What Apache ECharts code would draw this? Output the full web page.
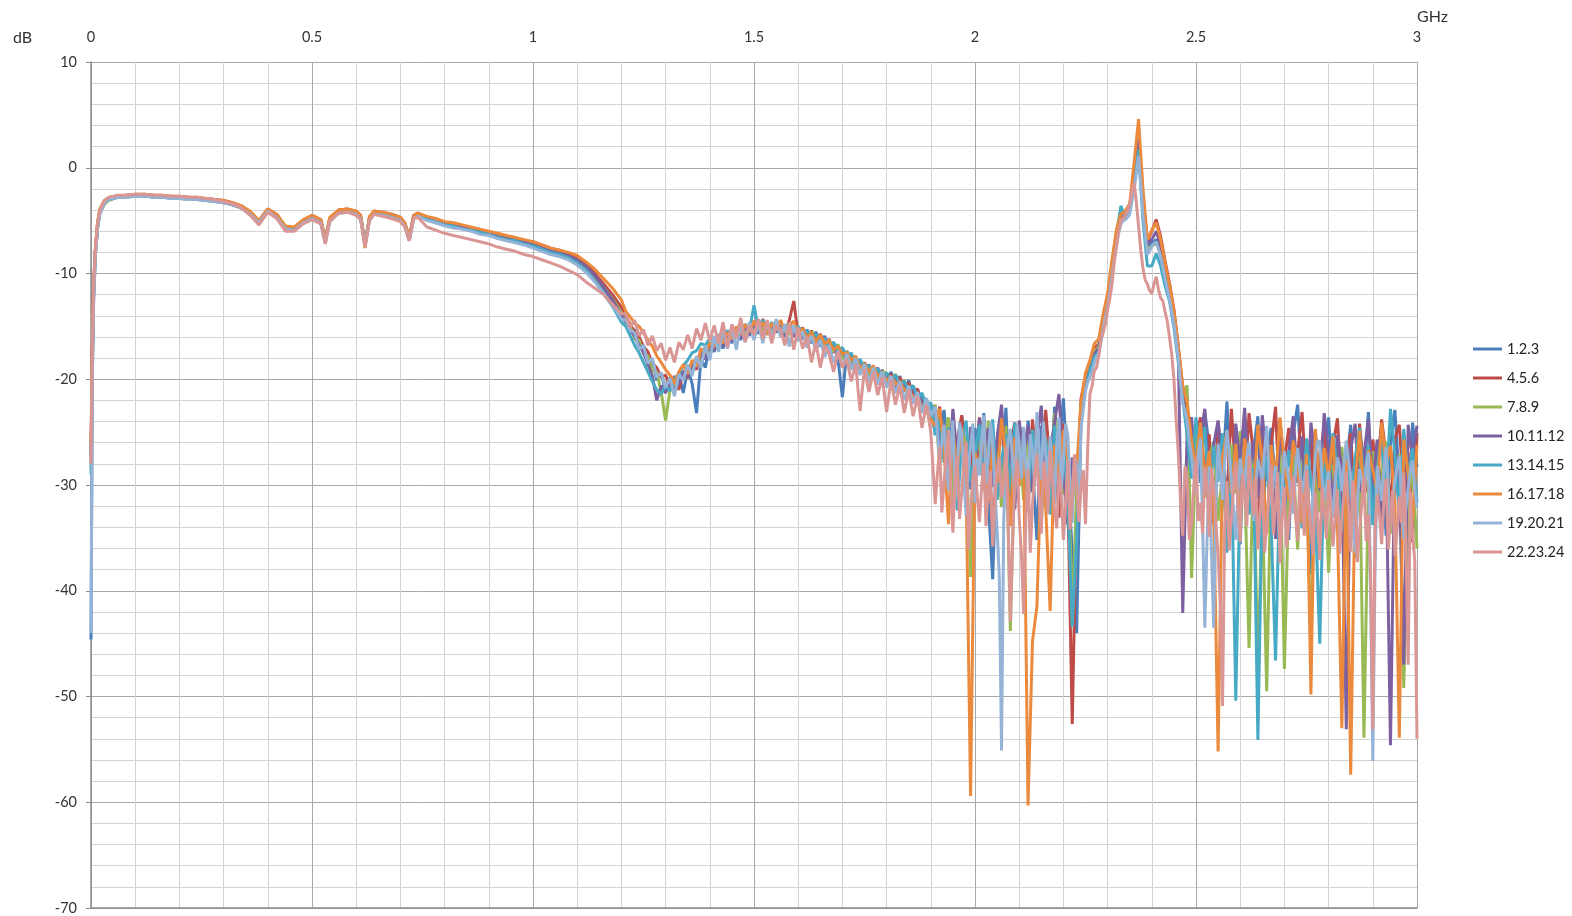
<!DOCTYPE html>
<html>
<head>
<meta charset="utf-8">
<script src="https://cdn.jsdelivr.net/npm/echarts@6/dist/echarts.min.js"></script>
<style>
  html, body { margin: 0; padding: 0; background: #fff; }
  #chart { width: 1572px; height: 916px; }
</style>
</head>
<body>
<div id="chart"></div>
<script>
// frequency grid (GHz), shared by all traces
var freq = [
  0, 0.003, 0.006, 0.01, 0.015, 0.02, 0.03, 0.04,
  0.06, 0.08, 0.1, 0.12, 0.14, 0.16, 0.18, 0.2, 0.22, 0.24,
  0.26, 0.28, 0.3, 0.32, 0.34, 0.36, 0.38, 0.4, 0.42, 0.44,
  0.46, 0.48, 0.5, 0.52, 0.53, 0.54, 0.56, 0.58, 0.6, 0.61,
  0.62, 0.63, 0.64, 0.66, 0.68, 0.7, 0.71, 0.72, 0.73, 0.74,
  0.76, 0.78, 0.8, 0.82, 0.84, 0.86, 0.88, 0.9, 0.92, 0.94,
  0.96, 0.98, 1, 1.02, 1.04, 1.06, 1.08, 1.1, 1.12, 1.14,
  1.16, 1.18, 1.2,
  1.21, 1.22, 1.23, 1.24, 1.25, 1.26, 1.27, 1.28, 1.29, 1.3,
  1.31, 1.32, 1.33, 1.34, 1.35, 1.36, 1.37, 1.38, 1.39, 1.4,
  1.41, 1.42, 1.43, 1.44, 1.45, 1.46, 1.47, 1.48, 1.49, 1.5,
  1.51, 1.52, 1.53, 1.54, 1.55, 1.56, 1.57, 1.58, 1.59, 1.6,
  1.61, 1.62, 1.63, 1.64, 1.65, 1.66, 1.67, 1.68, 1.69, 1.7,
  1.71, 1.72, 1.73, 1.74, 1.75, 1.76, 1.77, 1.78, 1.79, 1.8,
  1.81, 1.82, 1.83, 1.84, 1.85, 1.86, 1.87, 1.88, 1.89, 1.9,
  1.91, 1.92, 1.93, 1.94, 1.95, 1.96, 1.97, 1.98, 1.99, 2.0,
  2.01, 2.02, 2.03, 2.04, 2.05, 2.06, 2.07, 2.08, 2.09, 2.1,
  2.11, 2.12, 2.13, 2.14, 2.15, 2.16, 2.17, 2.18, 2.19, 2.2,
  2.21, 2.22, 2.23, 2.24, 2.25, 2.26, 2.27, 2.28, 2.29, 2.3,
  2.31, 2.32, 2.33, 2.34, 2.35, 2.36, 2.37, 2.38, 2.39, 2.4,
  2.41, 2.42, 2.43, 2.44, 2.45, 2.46, 2.47, 2.48, 2.49, 2.5,
  2.51, 2.52, 2.53, 2.54, 2.55, 2.56, 2.57, 2.58, 2.59, 2.6,
  2.61, 2.62, 2.63, 2.64, 2.65, 2.66, 2.67, 2.68, 2.69, 2.7,
  2.71, 2.72, 2.73, 2.74, 2.75, 2.76, 2.77, 2.78, 2.79, 2.8,
  2.81, 2.82, 2.83, 2.84, 2.85, 2.86, 2.87, 2.88, 2.89, 2.9,
  2.91, 2.92, 2.93, 2.94, 2.95, 2.96, 2.97, 2.98, 2.99, 3.0
];

// extra in-between samples for the two traces that sit on top of the noisy band
var freqHalf = [
  1.915, 1.925, 1.935, 1.945, 1.955, 1.965, 1.975, 1.985, 1.995, 2.005,
  2.015, 2.025, 2.035, 2.045, 2.055, 2.065, 2.075, 2.085, 2.095, 2.105,
  2.115, 2.125, 2.135, 2.145, 2.155, 2.165, 2.175, 2.185, 2.195, 2.205,
  2.215, 2.225, 2.235, 2.245, 2.255, 2.265, 2.275, 2.285, 2.295, 2.305,
  2.315, 2.325, 2.335, 2.345, 2.355, 2.365, 2.375, 2.385, 2.395, 2.405,
  2.415, 2.425, 2.435, 2.445, 2.455, 2.465, 2.475, 2.485, 2.495, 2.505,
  2.515, 2.525, 2.535, 2.545, 2.555, 2.565, 2.575, 2.585, 2.595, 2.605,
  2.615, 2.625, 2.635, 2.645, 2.655, 2.665, 2.675, 2.685, 2.695, 2.705,
  2.715, 2.725, 2.735, 2.745, 2.755, 2.765, 2.775, 2.785, 2.795, 2.805,
  2.815, 2.825, 2.835, 2.845, 2.855, 2.865, 2.875, 2.885, 2.895, 2.905,
  2.915, 2.925, 2.935, 2.945, 2.955, 2.965, 2.975, 2.985, 2.995
];

var names = ['1.2.3', '4.5.6', '7.8.9', '10.11.12', '13.14.15', '16.17.18', '19.20.21', '22.23.24'];
var colors = ['#4a7ebb', '#be4b48', '#98b954', '#7d60a0', '#46aac5', '#eb8a3c', '#95b3d7', '#d99694'];

// dB values, one array per trace
var s1 = [
  -44.6, -20, -12.5, -8.2, -5.6, -4.3, -3.4, -3.0,
  -2.8, -2.7, -2.6, -2.7, -2.7, -2.8, -2.8, -2.9, -2.9, -3.0,
  -3.0, -3.1, -3.2, -3.4, -3.8, -4.4, -5.2, -4.1, -4.6, -5.8,
  -5.9, -5.2, -4.7, -5.1, -7.0, -5.0, -4.2, -4.1, -4.3, -4.7,
  -7.3, -4.9, -4.3, -4.4, -4.6, -4.9, -5.4, -6.8, -4.7, -4.5,
  -4.9, -5.2, -5.4, -5.6, -5.7, -5.9, -6.2, -6.3, -6.5, -6.8,
  -6.9, -7.2, -7.3, -7.7, -7.9, -8.2, -8.4, -8.9, -9.5, -10.5,
  -11.6, -12.8, -14.1,
  -14.2, -15.6, -15.3, -17.1, -16.8, -18.6, -18.2, -20.1, -19.4, -21.2,
  -19.8, -20.9, -19.5, -21.3, -19.0, -20.4, -23.2, -18.1, -18.9, -16.5,
  -17.4, -16.0, -17.1, -15.5, -16.6, -15.1, -16.3, -14.9, -15.9, -14.6,
  -15.7, -14.5, -15.8, -14.7, -15.6, -14.6, -16.0, -14.8, -15.9, -15.1,
  -16.2, -15.3, -16.6, -15.5, -16.9, -15.9, -17.4, -16.5, -18.1, -21.7,
  -17.3, -18.7, -17.9, -19.4, -18.5, -19.9, -18.8, -20.2, -19.1, -20.4,
  -19.3, -20.8, -19.7, -21.2, -20.1, -21.7, -20.9, -22.6, -21.8, -23.5,
  -23.8, -25.6, -22.9, -27.4, -24.1, -29.8, -23.5, -26.9, -30.4, -24.6,
  -27.3, -23.2, -31.5, -38.9, -25.8, -29.4, -22.7, -33.1, -26.2, -24.9,
  -30.6, -23.9, -28.1, -35.2, -24.4, -27.6, -31.9, -22.6, -26.8, -21.8,
  -29.5, -36.1, -44.0, -23.4, -20.6, -19.4, -17.8, -17.3, -14.9, -12.8,
  -9.6, -6.8, -5.0, -4.6, -4.1, -1.2, 2.5, -3.5, -7.5, -7.1,
  -6.8, -7.8, -9.9, -11.8, -14.3, -17.8, -21.4, -23.2, -27.6, -24.4,
  -29.8, -23.1, -26.4, -32.5, -24.7, -28.9, -22.1, -30.7, -25.3, -35.6,
  -24.2, -31.4, -26.8, -23.5, -33.9, -27.2, -24.6, -30.1, -23.8, -28.7,
  -35.2, -25.1, -22.4, -29.6, -26.3, -38.4, -24.9, -31.7, -27.5, -23.6,
  -30.2, -25.8, -33.6, -28.1, -24.3, -36.9, -26.7, -29.4, -23.1, -31.8,
  -27.3, -24.6, -34.8, -26.1, -22.9, -29.7, -25.4, -38.2, -24.1, -28.3
];

var s2 = [
  -27.5, -17, -11, -7.6, -5.2, -4.0, -3.2, -2.9,
  -2.7, -2.6, -2.6, -2.5, -2.6, -2.7, -2.7, -2.8, -2.8, -2.9,
  -2.9, -3.0, -3.1, -3.3, -3.6, -4.2, -5.0, -3.9, -4.4, -5.6,
  -5.7, -5.0, -4.5, -4.9, -6.8, -4.8, -4.0, -3.9, -4.1, -4.5,
  -7.1, -4.7, -4.1, -4.2, -4.4, -4.7, -5.2, -6.6, -4.5, -4.3,
  -4.7, -4.9, -5.2, -5.3, -5.5, -5.7, -5.9, -6.1, -6.3, -6.5,
  -6.6, -6.9, -7.0, -7.3, -7.6, -7.8, -8.1, -8.5, -9.1, -10.0,
  -11.0, -12.0, -13.2,
  -14.0, -14.8, -15.5, -16.0, -16.9, -17.4, -18.5, -18.9, -19.8, -19.6,
  -20.8, -19.7, -21.0, -19.2, -19.9, -18.4, -19.1, -17.3, -17.9, -16.6,
  -17.2, -16.1, -16.8, -15.6, -16.3, -15.2, -16.0, -14.9, -15.7, -14.5,
  -15.4, -14.3, -15.6, -14.8, -15.5, -14.5, -15.7, -14.4, -12.6, -15.8,
  -15.1, -16.3, -15.4, -16.6, -15.7, -17.0, -16.2, -17.5, -16.8, -18.0,
  -17.4, -18.5, -18.0, -19.3, -18.4, -19.7, -18.9, -20.1, -19.2, -20.3,
  -19.5, -20.6, -19.8, -21.0, -20.3, -21.4, -20.9, -22.5, -22.0, -23.4,
  -24.9, -22.6, -26.8, -24.2, -30.1, -25.7, -23.4, -28.5, -26.2, -31.3,
  -23.6, -28.4, -25.1, -34.7, -27.8, -23.3, -30.9, -26.4, -24.1, -29.2,
  -25.7, -32.4, -23.8, -27.9, -30.6, -22.9, -28.3, -25.4, -33.1, -24.2,
  -30.8, -52.6, -31.2, -21.8, -19.7, -18.6, -17.0, -16.7, -14.1, -12.2,
  -9.2, -6.2, -4.6, -4.3, -3.6, -1.0, 2.3, -2.6, -7.0, -6.0,
  -4.9, -6.5, -8.8, -10.9, -13.4, -16.9, -20.8, -22.6, -26.3, -25.8,
  -23.6, -29.4, -25.2, -33.8, -24.1, -27.6, -31.2, -22.8, -28.9, -25.5,
  -30.4, -23.2, -27.1, -35.5, -24.8, -29.1, -26.3, -22.6, -32.4, -27.7,
  -24.6, -30.3, -26.9, -23.1, -29.8, -25.2, -34.1, -27.3, -24.5, -30.6,
  -26.2, -23.7, -31.5, -27.8, -25.1, -33.2, -24.2, -28.6, -30.9, -25.7,
  -29.4, -23.8, -27.2, -32.1, -25.6, -24.3, -30.8, -26.9, -35.4, -25.1
];

var s3 = [
  -28.5, -18, -11.8, -8.0, -5.5, -4.3, -3.5, -3.1,
  -2.8, -2.8, -2.7, -2.6, -2.7, -2.8, -2.8, -2.9, -3.0, -2.9,
  -3.1, -3.1, -3.3, -3.4, -3.7, -4.3, -5.1, -4.0, -4.5, -5.7,
  -5.7, -5.0, -4.6, -5.0, -6.9, -4.9, -4.2, -4.0, -4.3, -4.6,
  -7.2, -4.8, -4.2, -4.4, -4.5, -4.8, -5.3, -6.7, -4.6, -4.4,
  -4.8, -5.0, -5.3, -5.5, -5.7, -5.8, -6.1, -6.3, -6.4, -6.7,
  -6.8, -7.1, -7.3, -7.6, -7.8, -8.1, -8.4, -8.7, -9.4, -10.3,
  -11.3, -12.4, -13.7,
  -14.7, -15.0, -16.2, -16.3, -17.6, -17.8, -19.2, -19.3, -21.2, -23.9,
  -21.0, -20.5, -19.4, -20.1, -18.7, -19.3, -17.9, -18.2, -16.9, -17.6,
  -16.2, -17.0, -15.8, -16.5, -15.4, -16.1, -15.0, -15.9, -14.8, -15.6,
  -14.6, -15.5, -14.7, -15.6, -14.6, -15.7, -14.8, -15.8, -15.0, -16.0,
  -15.2, -16.3, -15.5, -16.5, -15.8, -16.9, -16.3, -17.4, -16.7, -18.1,
  -17.4, -18.4, -17.9, -19.2, -18.5, -19.6, -18.9, -20.0, -19.3, -19.4,
  -20.3, -19.5, -20.8, -20.1, -21.3, -20.6, -22.0, -21.4, -22.9, -23.2,
  -22.4, -28.1, -25.3, -23.6, -31.8, -27.2, -24.8, -26.1, -38.7, -27.9,
  -25.2, -30.6, -23.9, -28.4, -26.7, -32.1, -24.4, -43.8, -27.6, -25.1,
  -31.4, -24.7, -28.2, -26.3, -33.5, -25.8, -29.7, -23.2, -27.4, -30.9,
  -26.1, -43.2, -30.4, -22.3, -19.9, -18.7, -17.4, -16.9, -14.5, -12.3,
  -9.0, -6.0, -3.8, -4.4, -3.9, -1.3, 2.0, -3.2, -7.8, -7.4,
  -7.1, -7.9, -10.2, -12.1, -14.6, -17.9, -21.2, -20.6, -38.8, -26.1,
  -24.3, -31.2, -27.5, -25.9, -33.4, -28.6, -35.7, -26.2, -30.8, -24.9,
  -29.3, -45.4, -27.1, -47.4, -31.6, -49.5, -28.3, -33.2, -26.4, -47.4,
  -30.2, -27.5, -36.1, -25.8, -29.4, -45.1, -27.2, -32.6, -26.7, -38.3,
  -28.1, -33.7, -26.4, -31.2, -29.5, -35.8, -27.3, -53.9, -30.1, -26.8,
  -32.4, -28.7, -25.9, -34.6, -30.2, -27.1, -49.2, -31.5, -28.4, -36.0
];

var s4 = [
  -27, -17.5, -11.5, -7.8, -5.4, -4.1, -3.3, -2.9,
  -2.7, -2.7, -2.6, -2.6, -2.8, -2.7, -2.9, -2.8, -2.9, -3.0,
  -3.1, -3.2, -3.3, -3.5, -3.8, -4.3, -5.2, -4.1, -4.6, -5.7,
  -5.8, -5.1, -4.7, -5.0, -7.0, -4.9, -4.1, -4.0, -4.3, -4.7,
  -7.3, -4.8, -4.3, -4.3, -4.6, -4.9, -5.4, -6.8, -4.6, -4.5,
  -4.8, -5.1, -5.3, -5.5, -5.6, -5.9, -6.1, -6.2, -6.5, -6.7,
  -6.8, -7.0, -7.2, -7.5, -7.8, -8.0, -8.3, -8.7, -9.3, -10.2,
  -11.3, -12.5, -13.9,
  -14.6, -15.4, -15.9, -16.8, -17.5, -18.6, -19.7, -22.0, -20.6, -21.3,
  -20.1, -21.0, -20.4, -19.3, -19.8, -18.6, -18.9, -17.5, -18.1, -16.8,
  -17.1, -16.3, -16.8, -15.7, -16.4, -15.3, -16.1, -15.0, -15.7, -14.8,
  -15.5, -14.7, -15.6, -14.9, -15.5, -14.6, -15.8, -14.9, -16.0, -15.1,
  -16.1, -15.4, -16.5, -15.7, -16.8, -16.0, -17.2, -16.6, -17.8, -17.1,
  -18.3, -17.6, -18.9, -18.2, -19.5, -18.6, -19.9, -18.9, -20.3, -19.4,
  -20.6, -19.6, -21.0, -20.2, -21.5, -20.6, -22.1, -21.5, -23.1, -22.4,
  -23.1, -26.4, -24.2, -29.3, -22.8, -27.6, -25.1, -31.4, -24.5, -28.2,
  -23.7, -27.9, -24.6, -30.2, -25.5, -22.4, -28.8, -26.1, -32.3, -23.9,
  -27.2, -24.3, -30.7, -25.6, -22.5, -29.4, -26.8, -24.1, -21.4, -28.6,
  -33.8, -27.4, -29.6, -22.9, -20.3, -19.1, -17.6, -17.1, -14.6, -12.6,
  -9.4, -6.6, -4.9, -4.5, -3.9, -0.9, 2.7, -3.0, -7.2, -6.8,
  -6.0, -7.4, -9.6, -11.6, -14.0, -17.6, -42.1, -24.8, -23.6, -29.3,
  -25.4, -22.8, -30.6, -26.2, -23.9, -28.7, -25.1, -33.4, -24.2, -27.9,
  -22.7, -29.5, -25.8, -31.3, -23.4, -27.8, -26.2, -35.1, -24.6, -28.4,
  -26.9, -23.5, -29.8, -25.4, -32.7, -24.1, -27.6, -30.5, -23.2, -26.8,
  -31.9, -25.3, -28.4, -53.1, -26.6, -24.2, -30.7, -27.1, -23.8, -29.9,
  -25.7, -33.2, -27.8, -54.6, -26.4, -29.1, -47.0, -24.3, -27.5, -24.4
];

var s5 = [
  -29, -18.5, -12, -8.1, -5.6, -4.2, -3.3, -3.0,
  -2.8, -2.7, -2.7, -2.6, -2.7, -2.8, -2.8, -2.8, -2.9, -3.0,
  -3.0, -3.1, -3.2, -3.5, -3.8, -4.4, -5.3, -4.1, -4.6, -5.8,
  -5.9, -5.2, -4.8, -5.2, -7.1, -5.0, -4.2, -4.1, -4.4, -4.8,
  -7.4, -4.9, -4.3, -4.4, -4.7, -4.9, -5.4, -6.9, -4.7, -4.5,
  -4.9, -5.1, -5.4, -5.5, -5.8, -5.9, -6.1, -6.3, -6.6, -6.8,
  -6.9, -7.2, -7.4, -7.7, -8.0, -8.2, -8.5, -9.0, -9.7, -10.7,
  -11.9, -13.1, -14.6,
  -15.0, -15.9, -16.8, -17.5, -18.4, -19.3, -20.2, -21.0, -21.4, -20.6,
  -21.1, -19.9, -19.6, -18.7, -18.2, -17.5, -17.3, -16.6, -16.8, -16.1,
  -16.4, -15.8, -16.1, -15.4, -15.9, -15.1, -15.6, -14.8, -15.3, -13.0,
  -15.2, -14.4, -15.5, -14.6, -15.3, -14.5, -15.6, -14.7, -15.4, -15.0,
  -15.7, -15.4, -16.2, -15.7, -16.6, -16.1, -17.0, -16.5, -17.3, -17.0,
  -17.9, -17.5, -18.6, -18.1, -19.1, -18.7, -19.5, -19.0, -19.8, -19.4,
  -20.1, -19.6, -20.5, -20.2, -21.0, -20.6, -21.8, -21.3, -22.6, -22.2,
  -25.3, -23.7, -27.9, -24.6, -26.2, -32.4, -25.8, -23.9, -29.6, -27.1,
  -24.3, -29.8, -26.5, -23.8, -31.4, -27.7, -25.2, -30.6, -24.1, -28.3,
  -26.9, -31.7, -24.8, -29.2, -27.4, -25.6, -32.8, -24.4, -28.6, -26.1,
  -31.5, -43.4, -35.2, -23.1, -20.8, -19.2, -17.9, -17.4, -15.2, -13.1,
  -9.8, -7.0, -3.6, -4.8, -4.2, -1.8, 1.7, -5.0, -9.3, -9.3,
  -8.1, -9.3, -11.2, -12.6, -15.1, -18.4, -21.9, -25.3, -29.4, -23.6,
  -27.8, -24.5, -31.9, -26.3, -29.7, -25.1, -36.4, -27.6, -50.4, -29.1,
  -26.2, -32.8, -28.4, -54.1, -30.6, -27.3, -33.7, -46.6, -28.9, -31.4,
  -26.7, -30.2, -27.4, -34.1, -25.6, -29.8, -32.5, -45.0, -27.9, -30.4,
  -25.1, -28.7, -34.3, -26.8, -31.2, -27.5, -24.6, -29.9, -26.3, -33.8,
  -28.4, -25.2, -30.6, -22.8, -27.1, -32.9, -24.7, -29.3, -26.5, -31.7
];

var s6 = [
  -26, -16.5, -11, -7.5, -5.1, -3.9, -3.1, -2.8,
  -2.7, -2.6, -2.5, -2.5, -2.6, -2.6, -2.7, -2.7, -2.8, -2.8,
  -2.9, -3.0, -3.1, -3.3, -3.6, -4.1, -5.0, -3.9, -4.4, -5.5,
  -5.6, -4.9, -4.5, -4.9, -6.8, -4.7, -4.0, -3.9, -4.1, -4.5,
  -7.6, -4.6, -4.1, -4.2, -4.4, -4.7, -5.2, -6.6, -4.5, -4.3,
  -4.6, -4.8, -5.1, -5.2, -5.4, -5.6, -5.8, -6.0, -6.2, -6.4,
  -6.6, -6.8, -7.0, -7.3, -7.6, -7.8, -8.0, -8.3, -8.9, -9.6,
  -10.5, -11.4, -12.5,
  -13.6, -14.1, -14.7, -15.0, -15.6, -16.3, -16.9, -17.8, -18.4, -19.1,
  -19.6, -20.4, -19.3, -18.6, -19.5, -18.2, -18.8, -17.1, -17.5, -16.6,
  -16.9, -15.9, -16.6, -15.6, -16.2, -15.0, -15.8, -14.8, -15.5, -14.5,
  -15.3, -14.6, -15.8, -14.7, -15.4, -14.4, -15.5, -14.9, -14.5, -15.9,
  -15.2, -16.1, -15.6, -16.4, -15.8, -16.6, -16.4, -17.2, -16.9, -17.6,
  -17.5, -18.2, -17.8, -19.0, -18.6, -19.3, -18.7, -19.8, -19.4, -20.2,
  -19.7, -20.5, -20.2, -21.0, -21.3, -21.6, -22.2, -22.5, -23.0, -23.8,
  -24.4, -22.8, -26.5, -33.7, -25.1, -28.3, -24.6, -30.2, -59.4, -26.9,
  -28.7, -24.2, -31.6, -26.4, -29.8, -23.7, -27.3, -33.9, -25.5, -30.1,
  -26.6, -60.3, -44.8, -41.5, -27.9, -32.1, -41.9, -26.2, -29.4, -24.8,
  -27.7, -31.6, -28.5, -22.1, -19.4, -18.2, -16.6, -16.2, -13.8, -11.9,
  -8.7, -5.9, -4.4, -4.1, -3.4, 0.5, 4.6, -2.0, -6.8, -5.9,
  -5.2, -6.8, -9.0, -11.1, -13.5, -17.0, -20.6, -22.2, -25.8, -28.4,
  -24.1, -29.6, -26.8, -32.3, -55.2, -27.4, -24.9, -30.8, -26.1, -33.2,
  -25.6, -28.9, -31.7, -24.3, -27.8, -34.6, -26.2, -29.5, -23.6, -28.1,
  -31.4, -25.8, -28.2, -33.6, -27.1, -49.8, -24.7, -30.3, -26.5, -29.2,
  -25.4, -33.9, -53.0, -27.6, -57.4, -29.8, -24.9, -31.2, -26.7, -28.6,
  -30.5, -24.1, -27.9, -26.3, -31.6, -53.9, -25.7, -28.8, -33.4, -26.2
];

var s7 = [
  -44, -19.5, -12.3, -8.3, -5.7, -4.4, -3.4, -3.0,
  -2.8, -2.8, -2.7, -2.7, -2.8, -2.8, -2.9, -2.9, -3.0, -3.0,
  -3.1, -3.2, -3.3, -3.5, -3.8, -4.4, -5.2, -4.1, -4.7, -5.8,
  -5.9, -5.2, -4.8, -5.2, -7.1, -5.1, -4.3, -4.2, -4.4, -4.8,
  -7.3, -5.0, -4.4, -4.5, -4.7, -5.0, -5.5, -6.9, -4.8, -4.6,
  -5.0, -5.2, -5.5, -5.7, -5.8, -6.0, -6.3, -6.4, -6.7, -6.9,
  -7.1, -7.3, -7.6, -7.9, -8.2, -8.4, -8.7, -9.2, -9.9, -10.8,
  -11.9, -13.0, -14.3,
  -14.4, -15.4, -15.6, -17.2, -16.8, -18.5, -18.0, -19.8, -19.4, -20.8,
  -19.9, -21.6, -19.5, -20.1, -18.6, -19.7, -17.8, -18.9, -16.8, -18.2,
  -15.9, -17.4, -15.3, -17.1, -15.0, -17.2, -14.7, -16.5, -14.6, -16.3,
  -14.7, -16.6, -14.5, -16.2, -14.3, -16.0, -14.8, -16.9, -14.9, -16.4,
  -15.5, -17.0, -15.9, -17.3, -16.3, -17.9, -16.8, -18.4, -17.3, -18.9,
  -17.6, -19.1, -18.0, -19.6, -18.6, -20.3, -18.9, -20.5, -19.3, -20.8,
  -19.7, -21.3, -20.2, -22.0, -20.6, -22.3, -21.2, -23.2, -21.8, -23.5,
  -22.6, -27.8, -24.3, -30.5, -23.9, -28.6, -25.2, -32.9, -26.4, -31.7,
  -29.1, -23.4, -27.6, -25.8, -34.2, -55.1, -28.3, -24.7, -30.9, -26.2,
  -24.5, -30.3, -26.8, -23.1, -29.5, -27.2, -25.4, -31.8, -23.6, -27.9,
  -25.3, -33.6, -28.1, -24.6, -21.1, -19.8, -18.4, -17.6, -15.3, -13.2,
  -10.2, -7.3, -5.3, -4.9, -4.4, -2.0, 1.1, -4.5, -8.2, -7.4,
  -7.0, -8.4, -10.5, -12.4, -14.8, -18.1, -22.3, -24.1, -27.2, -30.8,
  -25.6, -43.5, -28.2, -43.5, -26.1, -31.4, -24.8, -29.3, -35.2, -27.5,
  -30.1, -25.9, -33.4, -27.6, -29.8, -24.4, -31.9, -28.2, -35.6, -26.8,
  -29.4, -32.7, -26.5, -30.9, -28.1, -34.8, -27.3, -25.9, -31.6, -28.7,
  -33.1, -27.4, -30.6, -25.8, -29.2, -36.4, -28.5, -31.3, -26.9, -56.1,
  -28.2, -31.5, -26.4, -33.8, -29.6, -27.3, -35.1, -30.4, -27.7, -32.2
];

var s7half = [
  -25.1, -26.0, -27.9, -26.8, -31.4, -24.1, -29.7, -28.3, -24.2, -27.5,
  -25.8, -29.9, -24.1, -30.6, -38.7, -33.2, -25.9, -27.8, -24.3, -29.4,
  -28.3, -25.2, -30.1, -26.6, -24.0, -29.9, -28.8, -26.1, -30.4, -24.2,
  -29.8, -27.4, -31.2, -22.8, -20.3, -19.2, -17.9, -16.4, -14.1, -11.8,
  -8.8, -6.2, -5.0, -4.7, -3.1, -0.5, -1.6, -6.3, -7.9, -7.2,
  -7.7, -9.4, -11.5, -13.6, -16.3, -20.4, -23.0, -25.9, -29.3, -27.1,
  -33.8, -35.2, -36.4, -31.8, -28.4, -27.6, -26.9, -32.4, -30.6, -29.1,
  -27.4, -29.6, -30.2, -28.4, -26.8, -28.7, -29.6, -31.3, -30.2, -28.3,
  -31.2, -28.9, -28.6, -29.5, -31.7, -30.6, -25.8, -29.2, -30.1, -31.4,
  -29.6, -28.3, -27.9, -27.7, -33.5, -31.8, -29.4, -28.2, -40.3, -38.4,
  -29.8, -28.6, -30.7, -31.4, -28.3, -31.6, -32.2, -28.6, -30.4
];

var s8 = [
  -28, -17, -11.2, -7.7, -5.2, -4.0, -3.1, -2.8,
  -2.6, -2.6, -2.5, -2.5, -2.6, -2.6, -2.7, -2.7, -2.8, -2.8,
  -2.9, -3.0, -3.2, -3.4, -3.8, -4.5, -5.4, -4.2, -4.8, -6.0,
  -6.0, -5.3, -4.9, -5.3, -7.2, -5.1, -4.3, -4.2, -4.5, -4.9,
  -7.5, -5.0, -4.4, -4.6, -4.8, -5.1, -5.6, -6.9, -4.8, -4.7,
  -5.6, -5.9, -6.2, -6.4, -6.6, -6.8, -7.0, -7.2, -7.5, -7.7,
  -7.9, -8.2, -8.4, -8.7, -9.0, -9.3, -9.7, -10.1, -10.8, -11.4,
  -12.0, -12.9, -13.8,
  -13.8, -15.1, -14.4, -15.9, -15.3, -16.8, -15.9, -17.3, -16.6, -18.2,
  -17.0, -18.4, -16.5, -17.2, -15.8, -17.1, -15.2, -16.3, -14.7, -16.4,
  -14.9, -16.6, -14.6, -17.0, -14.8, -16.1, -14.2, -16.5, -14.9, -15.8,
  -14.3, -16.2, -14.4, -16.6, -14.9, -15.3, -16.8, -14.6, -17.2, -15.1,
  -17.1, -15.9, -18.4, -16.5, -18.9, -16.8, -17.6, -19.3, -17.4, -18.9,
  -18.1, -20.2, -18.6, -23.0, -19.0, -21.2, -19.3, -21.5, -19.8, -23.1,
  -20.1, -22.4, -20.6, -23.2, -21.0, -23.5, -21.6, -24.6, -22.4, -25.0,
  -31.8, -26.4, -29.7, -24.8, -34.5, -27.3, -30.6, -25.9, -32.4, -28.1,
  -33.5, -27.9, -30.4, -35.8, -28.6, -31.2, -26.4, -42.9, -29.7, -33.1,
  -42.2, -28.5, -31.8, -27.1, -34.6, -29.3, -26.7, -32.4, -28.9, -35.2,
  -27.6, -31.4, -29.8, -30.2, -33.7, -21.4, -19.2, -17.8, -15.6, -13.4,
  -11.0, -7.5, -5.0, -4.5, -3.5, -1.4, -5.5, -9.5, -11.0, -11.9,
  -10.3, -12.3, -13.6, -16.0, -20.0, -27.0, -34.8, -29.3, -33.6, -27.4,
  -31.7, -28.3, -34.9, -30.2, -36.8, -50.9, -29.6, -33.1, -27.8, -35.4,
  -30.6, -27.2, -32.8, -36.1, -29.4, -33.7, -28.1, -31.9, -37.4, -30.2,
  -33.6, -29.1, -35.3, -31.4, -28.6, -34.2, -30.7, -37.1, -32.3, -29.5,
  -35.8, -30.4, -33.1, -28.7, -36.3, -31.6, -34.4, -29.2, -32.8, -53.1,
  -30.9, -35.6, -29.4, -33.2, -36.7, -31.1, -28.8, -47.0, -34.5, -54.0
];

var s8half = [
  -28.9, -32.6, -27.1, -30.3, -29.6, -33.2, -27.8, -36.1, -29.4, -31.0,
  -30.2, -33.9, -28.7, -31.5, -27.4, -29.8, -33.6, -35.4, -27.6, -36.5,
  -33.0, -36.4, -29.1, -31.2, -27.8, -32.7, -29.5, -34.1, -30.6, -31.9,
  -34.2, -27.1, -33.5, -28.6, -26.5, -20.6, -18.9, -16.2, -14.8, -12.4,
  -8.9, -6.0, -4.8, -4.1, -2.2, -3.3, -7.8, -10.6, -11.6, -11.0,
  -11.5, -12.6, -14.5, -17.6, -23.8, -31.5, -28.2, -35.2, -30.1, -33.4,
  -34.6, -30.1, -28.4, -33.5, -41.2, -33.8, -36.2, -30.4, -32.1, -28.9,
  -33.9, -30.5, -29.3, -32.6, -36.4, -30.9, -34.7, -28.8, -33.1, -35.9,
  -31.2, -32.8, -29.4, -34.8, -31.5, -36.6, -33.0, -30.2, -35.1, -32.4,
  -32.9, -36.5, -30.8, -32.2, -29.6, -37.3, -31.8, -35.3, -38.4, -34.2,
  -32.7, -31.4, -36.1, -30.5, -34.3, -33.6, -35.8, -30.7, -37.2
];

var traces = [s1, s2, s3, s4, s5, s6, s7, s8];
var extras = { 6: s7half, 7: s8half };

var chart = echarts.init(document.getElementById('chart'));
var font = 'Lato, "Open Sans", sans-serif';

var series = traces.map(function (vals, k) {
  var pts = freq.map(function (f, i) { return [f, vals[i]]; });
  if (extras[k]) {
    freqHalf.forEach(function (f, i) { pts.push([f, extras[k][i]]); });
    pts.sort(function (a, b) { return a[0] - b[0]; });
  }
  return {
    name: names[k],
    type: 'line',
    xAxisIndex: 0,
    yAxisIndex: 0,
    symbol: 'none',
    lineStyle: { width: 3, color: colors[k] },
    itemStyle: { color: colors[k] },
    data: pts
  };
});

var option = {
  animation: false,
  backgroundColor: '#fff',
  textStyle: { fontFamily: font },
  grid: { left: 91, right: 155, top: 62, bottom: 8 },
  legend: {
    orient: 'vertical',
    left: 1468,
    top: 336,
    icon: 'rect',
    itemWidth: 29,
    itemHeight: 3,
    itemGap: 13,
    data: names,
    textStyle: { fontFamily: font, fontSize: 14.5, color: '#222', lineHeight: 16 }
  },
  xAxis: [{
    type: 'value',
    position: 'top',
    min: 0, max: 3, interval: 0.5,
    axisLine: { show: false },
    axisTick: { show: false },
    axisLabel: { color: '#333', fontSize: 14.5, margin: 17, fontFamily: font },
    splitLine: { show: true, lineStyle: { color: '#a8a8a8', width: 1 } },
    minorTick: { show: false, splitNumber: 5 },
    minorSplitLine: { show: true, lineStyle: { color: '#d3d3d3', width: 1 } }
  }, {
    type: 'value',
    position: 'bottom',
    min: 0, max: 3,
    axisLine: { show: true, onZero: false, lineStyle: { color: '#8c8c8c', width: 1.5 } },
    axisTick: { show: false },
    axisLabel: { show: false },
    splitLine: { show: false }
  }],
  yAxis: {
    type: 'value',
    min: -70, max: 10, interval: 10,
    axisLine: { show: true, lineStyle: { color: '#8c8c8c', width: 1.5 } },
    axisTick: { show: true, length: 5, lineStyle: { color: '#8c8c8c' } },
    axisLabel: { color: '#333', fontSize: 14.5, margin: 14, fontFamily: font },
    splitLine: { show: true, lineStyle: { color: '#a8a8a8', width: 1 } },
    minorTick: { show: false, splitNumber: 5 },
    minorSplitLine: { show: true, lineStyle: { color: '#d3d3d3', width: 1 } }
  },
  graphic: [
    { type: 'text', left: 13, top: 30, style: { text: 'dB', fontSize: 16, fontFamily: font, fill: '#333' } },
    { type: 'text', left: 1417, top: 9, style: { text: 'GHz', fontSize: 16, fontFamily: font, fill: '#333' } }
  ],
  series: series
};

chart.setOption(option);
window.addEventListener('resize', function () {
  chart.resize();
});
</script>
</body>
</html>
